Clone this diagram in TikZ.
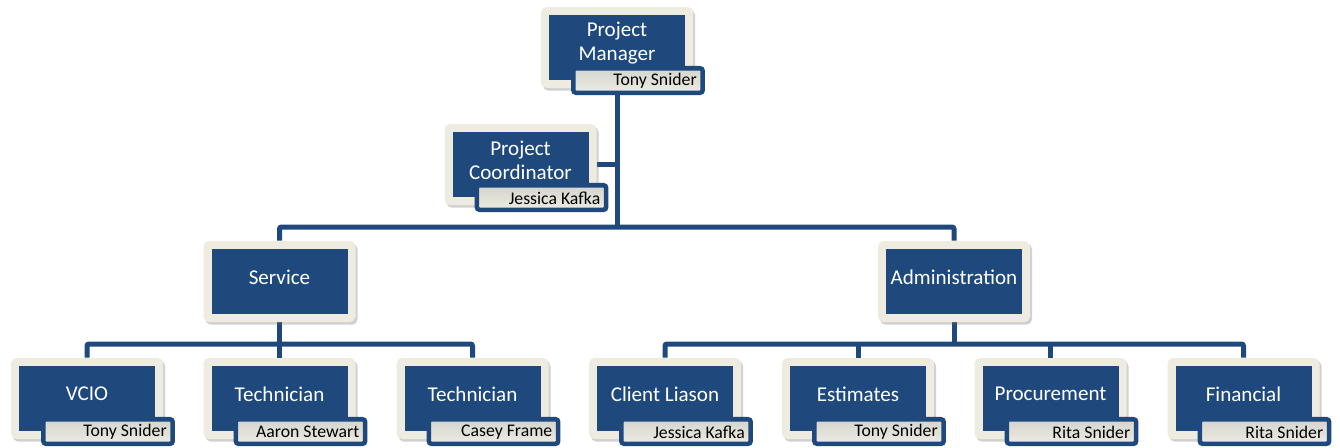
\documentclass[tikz,border=0pt]{standalone}
\usepackage{fontspec}
\setmainfont{Carlito}
\usetikzlibrary{shadows,backgrounds}
\definecolor{navy}{HTML}{1F497D}
\definecolor{beige}{HTML}{EEECE1}
\definecolor{taggrey}{HTML}{D3D4CE}
\tikzset{
  outerbox/.style={fill=beige, rounded corners=4pt, minimum width=114pt, minimum height=60.75pt, inner sep=0pt,
    drop shadow={shadow xshift=1.5pt, shadow yshift=-2pt, opacity=0.3, fill=black!60}},
  innerbox/.style={fill=navy, minimum width=102pt, minimum height=48.75pt, inner sep=0pt},
  maintext/.style={text=white, font=\fontsize{15.8pt}{18pt}\selectfont, align=center, inner sep=0pt},
  tagbox/.style={draw=navy, line width=3.4pt, rounded corners=2pt, top color=taggrey, bottom color=beige,
    minimum width=97pt, minimum height=18.4pt, inner sep=0pt},
  tagtext/.style={text=black, font=\fontsize{13.3pt}{15pt}\selectfont, inner sep=0pt, anchor=east},
  conn/.style={draw=navy, line width=3.75pt, rounded corners=1.5pt}
}
% name, cx, top, main text
\newcommand{\obox}[4]{%
  \node[outerbox] (#1) at (#2,#3+40.5) {};
  \node[innerbox] (#1-in) at (#2,#3+40.5) {};
  \node[maintext] (#1-t) at (#2,#3+36) {#4};
}
% name, cx, top, tag text
\newcommand{\otag}[4]{%
  \node[tagbox] (#1-tag) at (#2+21,#3+73.5) {};
  \node[tagtext] (#1-name) at (#2+80,#3+74) {#4};
}
\begin{document}
\begin{tikzpicture}[x=0.75pt,y=-0.75pt]
\useasboundingbox (0,0) rectangle (1340,447);

\obox{pm}{617}{7}{Project\\Manager}
\otag{pm}{617}{7}{Tony Snider}
\obox{pc}{520.5}{124}{Project\\Coordinator}
\otag{pc}{520.5}{124}{Jessica Kafka}
\obox{svc}{279.5}{241}{Service}
\obox{adm}{954}{241}{Administration}

\obox{vcio}{87}{358}{VCIO}
\otag{vcio}{87}{358}{Tony Snider}
\obox{techa}{279.5}{358}{Technician}
\otag{techa}{279.5}{358}{Aaron Stewart}
\obox{techb}{472.5}{358}{Technician}
\otag{techb}{472.5}{358}{Casey Frame}
\obox{cli}{665}{358}{Client Liason}
\otag{cli}{665}{358}{Jessica Kafka}
\obox{est}{858}{358}{Estimates}
\otag{est}{858}{358}{Tony Snider}
\obox{proc}{1050.5}{358}{Procurement}
\otag{proc}{1050.5}{358}{Rita Snider}
\obox{fin}{1243.5}{358}{Financial}
\otag{fin}{1243.5}{358}{Rita Snider}

\coordinate (hb) at (617,227);
\coordinate (sb) at (279.5,344);
\coordinate (ab) at (954,344);

\begin{scope}[on background layer]
  \draw[conn] (pm.south) -- (hb);
  \draw[conn] (pc.east) -- (pc.east -| pm.south);
  \draw[conn] (svc.north) |- (hb) -| (adm.north);
  \draw[conn] (svc.south) -- (sb);
  \draw[conn] (vcio.north) |- (sb) -| (techb.north);
  \draw[conn] (sb) -- (techa.north);
  \draw[conn] (adm.south) -- (ab);
  \draw[conn] (cli.north) |- (ab) -| (fin.north);
  \draw[conn] (est.north) -- (est.north |- ab);
  \draw[conn] (proc.north) -- (proc.north |- ab);
\end{scope}
\end{tikzpicture}
\end{document}
